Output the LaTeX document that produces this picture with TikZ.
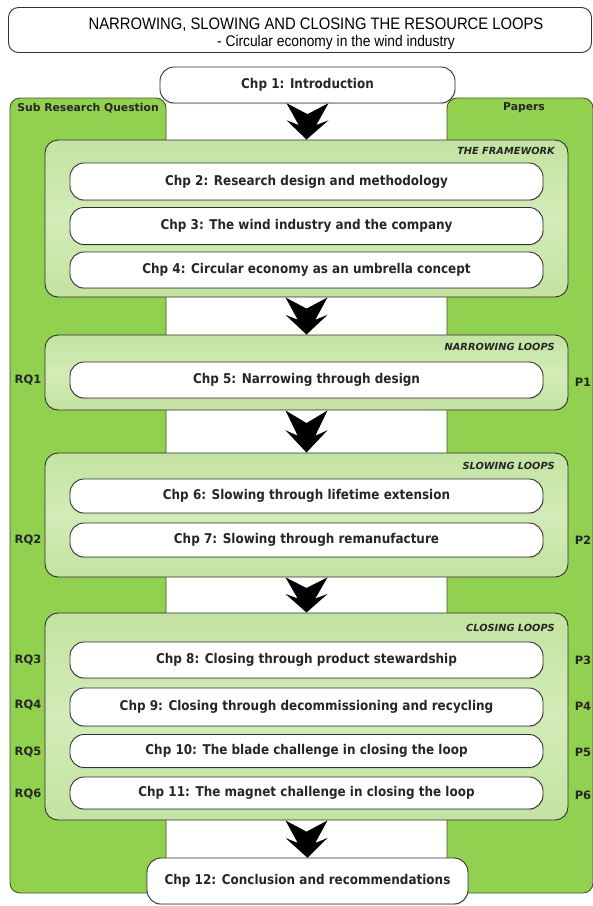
\documentclass[tikz,border=0pt]{standalone}
\usepackage{fontspec}
\usepackage{graphicx}
\setmainfont{DejaVu Sans}
\newfontfamily\titlefont{Liberation Sans}
\usetikzlibrary{calc,shadows}
\definecolor{panelgreen}{HTML}{92D050}
\definecolor{panelline}{HTML}{3B5A25}
\definecolor{loopgreen}{HTML}{C3E3A1}
\definecolor{looplight}{HTML}{D2ECB8}
\definecolor{boxline}{HTML}{303030}
\definecolor{txt}{HTML}{262626}
\newcommand{\vstretch}[1]{\scalebox{1}[1.12]{#1}}
\tikzset{
  panel/.style={draw=panelline, line width=0.9pt, fill=panelgreen, rounded corners=10pt, inner sep=0pt},
  loopbox/.style={draw=boxline, line width=0.9pt, top color=loopgreen, bottom color=loopgreen, middle color=looplight, rounded corners=13pt, minimum width=523pt, inner sep=0pt},
  chapbox/.style={draw=boxline, line width=0.9pt, fill=white, rounded corners=14pt, minimum width=473pt, minimum height=36pt, inner sep=0pt, text=txt, font=\fontsize{12}{14}\selectfont\bfseries, drop shadow={opacity=0.25, shadow xshift=0.4pt, shadow yshift=-1.2pt}},
  looplabel/.style={anchor=east, font=\fontsize{9.8}{11}\selectfont\bfseries\itshape, text=txt, inner sep=0pt},
  sidelabel/.style={font=\fontsize{11.5}{13}\selectfont\bfseries, text=txt, inner sep=0pt},
  headlabel/.style={font=\fontsize{10.8}{12}\selectfont\bfseries, text=txt, inner sep=0pt},
  titletext/.style={font=\titlefont, text=black, inner sep=0pt},
  chev/.style={fill=black, draw=none}
}
\newcommand{\chevarrow}[2]{%
  \path let \p1=(#1.south), \p2=(#2.north), \n1={\y2-\y1}, \n2={21pt} in
    [chev] (\x1-\n2,\y1) -- (\x1,\y1+0.3*\n1) -- (\x1+\n2,\y1) -- (\x1+0.42*\n2,\y1+0.6*\n1)
    -- (\x1+\n2,\y1+0.47*\n1) -- (\x2,\y2) -- (\x1-\n2,\y1+0.47*\n1) -- (\x1-0.42*\n2,\y1+0.6*\n1) -- cycle;}
\begin{document}
\begin{tikzpicture}[x=1pt,y=-1pt]
\useasboundingbox (0,0) rectangle (593,906);
% title
\node[draw=boxline, line width=0.9pt, fill=white, rounded corners=10pt, minimum width=583pt, minimum height=45pt, inner sep=0pt] (title) at (300,30) {};
\node[titletext] (title1) at (316,25) {\vstretch{\fontsize{14.8}{17}\selectfont NARROWING, SLOWING AND CLOSING THE RESOURCE LOOPS}};
\node[titletext] (title2) at (336,42) {\vstretch{\fontsize{13.8}{16}\selectfont - Circular economy in the wind industry}};
% side panels
\node[panel, minimum width=156pt, minimum height=795pt] (left) at (88,495.5) {};
\node[panel, minimum width=146pt, minimum height=795pt] (right) at (520,495.5) {};
\node[headlabel] (lefttitle) at (88,108) {Sub Research Question};
\node[headlabel] (righttitle) at (524,108) {Papers};
% loop boxes
\node[loopbox, minimum height=157pt] (fw) at (306.5,218.5) {};
\node[loopbox, minimum height=75pt] (nar) at (306.5,372.5) {};
\node[loopbox, minimum height=124pt] (slow) at (306.5,515) {};
\node[loopbox, minimum height=207pt] (clos) at (306.5,716.5) {};
\node[looplabel] (fwl) at (555,151) {THE FRAMEWORK};
\node[looplabel] (narl) at (555,347) {NARROWING LOOPS};
\node[looplabel] (slowl) at (555,466) {SLOWING LOOPS};
\node[looplabel] (closl) at (555,628) {CLOSING LOOPS};
% start and end boxes (placed first for the arrows)
\path (307.5,85) node[minimum width=295pt, minimum height=36pt, inner sep=0pt] (c1) {};
\path (307.5,881) node[minimum width=321pt, minimum height=46pt, inner sep=0pt] (c12) {};
% arrows
\chevarrow{c1}{fw}
\chevarrow{fw}{nar}
\chevarrow{nar}{slow}
\chevarrow{slow}{clos}
\chevarrow{clos}{c12}
\node[chapbox, minimum width=295pt] (c1box) at (c1) {\vstretch{Chp 1: Introduction}};
\node[chapbox, minimum width=321pt, minimum height=46pt] (c12box) at (c12) {\vstretch{Chp 12: Conclusion and recommendations}};
% chapter boxes
\node[chapbox, minimum height=37pt] (c2) at (306.5,181.5) {\vstretch{Chp 2: Research design and methodology}};
\node[chapbox, minimum height=37pt] (c3) at (306.5,226) {\vstretch{Chp 3: The wind industry and the company}};
\node[chapbox, minimum height=36pt] (c4) at (306.5,270) {\vstretch{Chp 4: Circular economy as an umbrella concept}};
\node[chapbox] (c5) at (306.5,380) {\vstretch{Chp 5: Narrowing through design}};
\node[chapbox, minimum height=34pt] (c6) at (306.5,496) {\vstretch{Chp 6: Slowing through lifetime extension}};
\node[chapbox, minimum height=34pt] (c7) at (306.5,540) {\vstretch{Chp 7: Slowing through remanufacture}};
\node[chapbox] (c8) at (306.5,660) {\vstretch{Chp 8: Closing through product stewardship}};
\node[chapbox, minimum height=38pt] (c9) at (306.5,707) {\vstretch{Chp 9: Closing through decommissioning and recycling}};
\node[chapbox, minimum height=33pt] (c10) at (306.5,751) {\vstretch{Chp 10: The blade challenge in closing the loop}};
\node[chapbox, minimum height=32pt] (c11) at (306.5,793) {\vstretch{Chp 11: The magnet challenge in closing the loop}};
% side labels
\node[sidelabel] (rq1) at (28,380) {RQ1};
\node[sidelabel] (rq2) at (28,540) {RQ2};
\node[sidelabel] (rq3) at (28,660) {RQ3};
\node[sidelabel] (rq4) at (28,705) {RQ4};
\node[sidelabel] (rq5) at (28,752) {RQ5};
\node[sidelabel] (rq6) at (28,794) {RQ6};
\node[sidelabel] (p1) at (583,382) {P1};
\node[sidelabel] (p2) at (583,540) {P2};
\node[sidelabel] (p3) at (583,660) {P3};
\node[sidelabel] (p4) at (583,706) {P4};
\node[sidelabel] (p5) at (583,752) {P5};
\node[sidelabel] (p6) at (583,795) {P6};
\end{tikzpicture}
\end{document}
